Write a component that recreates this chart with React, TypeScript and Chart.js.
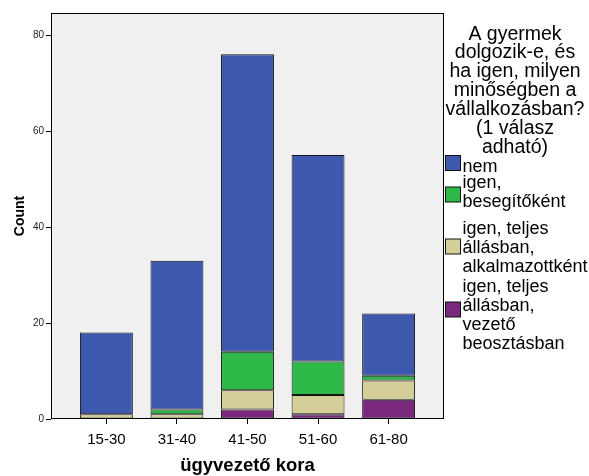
import React, { useEffect, useRef } from "react";
import { Chart, registerables } from "chart.js";

Chart.register(...registerables);

const CATEGORIES = ["15-30", "31-40", "41-50", "51-60", "61-80"];
const SERIES_NAMES = [
  "nem",
  "igen, besegítőként",
  "igen, teljes állásban, alkalmazottként",
  "igen, teljes állásban, vezető beosztásban",
];
const NEM = [17, 31, 62, 43, 13];
const BESEGITO = [0, 1, 8, 7, 1];
const ALKALMAZOTT = [1, 1, 4, 4, 4];
const VEZETO = [0, 0, 2, 1, 4];
const Y_TICKS = [0, 20, 40, 60, 80];
const COLORS = ["#3D58AD", "#2EB848", "#D4CF98", "#7A287D"];
const LEGEND_TITLE = [
  "A gyermek",
  "dolgozik-e, és",
  "ha igen, milyen",
  "minőségben a",
  "vállalkozásban?",
  "(1 válasz",
  "adható)",
];
const LEGEND_LINES = [
  ["nem"],
  ["igen,", "besegítőként"],
  ["igen, teljes", "állásban,", "alkalmazottként"],
  ["igen, teljes", "állásban,", "vezető", "beosztásban"],
];
const X_TITLE = "ügyvezető kora";
const Y_TITLE = "Count";

const FONT = '"Liberation Sans", Arial, sans-serif';

const toPoints = (arr: number[]) =>
  arr.map((v, i) => ({ x: i, y: v === 0 ? null : v }));

const decorPlugin = {
  id: "decor",
  beforeDraw(chart: any) {
    const { ctx, chartArea } = chart;
    ctx.save();
    ctx.fillStyle = "#F0F0F0";
    ctx.fillRect(
      chartArea.left,
      chartArea.top,
      chartArea.right - chartArea.left,
      chartArea.bottom - chartArea.top
    );
    ctx.restore();
  },
  afterDraw(chart: any) {
    const { ctx, chartArea } = chart;
    ctx.save();
    ctx.strokeStyle = "#000";
    ctx.lineWidth = 1;
    ctx.strokeRect(
      Math.round(chartArea.left) + 0.5,
      Math.round(chartArea.top) + 0.5,
      Math.round(chartArea.right - chartArea.left) - 1,
      Math.round(chartArea.bottom - chartArea.top) - 1
    );
    // axis titles
    ctx.fillStyle = "#000";
    ctx.font = `bold 18.5px ${FONT}`;
    ctx.textAlign = "center";
    ctx.textBaseline = "alphabetic";
    ctx.fillText(X_TITLE, (chartArea.left + chartArea.right) / 2, 471);
    ctx.save();
    ctx.translate(24, (chartArea.top + chartArea.bottom) / 2);
    ctx.rotate(-Math.PI / 2);
    ctx.font = `bold 14px ${FONT}`;
    ctx.fillText(Y_TITLE, 0, 0);
    ctx.restore();

    // legend title
    ctx.font = `19.5px ${FONT}`;
    ctx.textAlign = "center";
    LEGEND_TITLE.forEach((line, i) => {
      ctx.fillText(line, 515, 39.5 + i * 18.9);
    });

    // legend items
    const boxY = [155.5, 187, 239, 302];
    const firstBaseline = [172, 188, 234, 292];
    ctx.font = `18px ${FONT}`;
    ctx.textAlign = "left";
    LEGEND_LINES.forEach((lines, k) => {
      ctx.fillStyle = COLORS[k];
      ctx.fillRect(445.5, boxY[k], 15, 15);
      ctx.strokeStyle = "#111";
      ctx.strokeRect(445.5, boxY[k], 15, 15);
      ctx.fillStyle = "#000";
      lines.forEach((t, j) => {
        ctx.fillText(t, 462.5, firstBaseline[k] + j * 18.9);
      });
    });
    ctx.restore();
  },
};

export default function App() {
  const ref = useRef<HTMLCanvasElement | null>(null);

  useEffect(() => {
    if (!ref.current) return;
    const stackOrder = [
      { name: SERIES_NAMES[3], data: VEZETO, color: COLORS[3] },
      { name: SERIES_NAMES[2], data: ALKALMAZOTT, color: COLORS[2] },
      { name: SERIES_NAMES[1], data: BESEGITO, color: COLORS[1] },
      { name: SERIES_NAMES[0], data: NEM, color: COLORS[0] },
    ];
    const chart = new Chart(ref.current, {
      type: "bar",
      data: {
        datasets: stackOrder.map((s) => ({
          label: s.name,
          data: toPoints(s.data) as any,
          backgroundColor: s.color,
          borderColor: "#151515",
          borderWidth: 1,
          borderSkipped: false,
          barPercentage: 0.75,
          categoryPercentage: 1,
        })),
      },
      options: {
        responsive: false,
        animation: false,
        events: [],
        layout: { padding: { left: 0, right: 145, top: 13, bottom: 0 } },
        plugins: {
          legend: { display: false },
          tooltip: { enabled: false },
          title: { display: false },
        },
        scales: {
          x: {
            type: "linear",
            stacked: true,
            offset: false,
            min: -0.785,
            max: 4.785,
            afterBuildTicks: (scale: any) => {
              scale.ticks = CATEGORIES.map((_, i) => ({ value: i }));
            },
            afterFit: (scale: any) => {
              scale.height = 57;
            },
            grid: {
              offset: false,
              drawOnChartArea: false,
              drawTicks: true,
              tickLength: 5,
              color: "#000",
            },
            border: { display: false },
            ticks: {
              autoSkip: false,
              maxRotation: 0,
              padding: 7,
              color: "#000",
              font: { family: FONT, size: 15 },
              callback: (v: any) => CATEGORIES[Math.round(Number(v))],
            },
          },
          y: {
            type: "linear",
            stacked: true,
            min: 0,
            max: 84.6,
            afterBuildTicks: (scale: any) => {
              scale.ticks = Y_TICKS.map((v) => ({ value: v }));
            },
            afterFit: (scale: any) => {
              scale.width = 51;
            },
            grid: {
              drawOnChartArea: false,
              drawTicks: true,
              tickLength: 5,
              color: "#000",
            },
            border: { display: false },
            ticks: {
              padding: 2,
              color: "#222",
              font: { family: FONT, size: 10 },
            },
          },
        },
      },
      plugins: [decorPlugin],
    });
    return () => chart.destroy();
  }, []);

  return (
    <div
      style={{
        position: "fixed",
        left: 0,
        top: 0,
        width: 589,
        height: 476,
        background: "#fff",
      }}
    >
      <canvas ref={ref} width={589} height={476} />
    </div>
  );
}
